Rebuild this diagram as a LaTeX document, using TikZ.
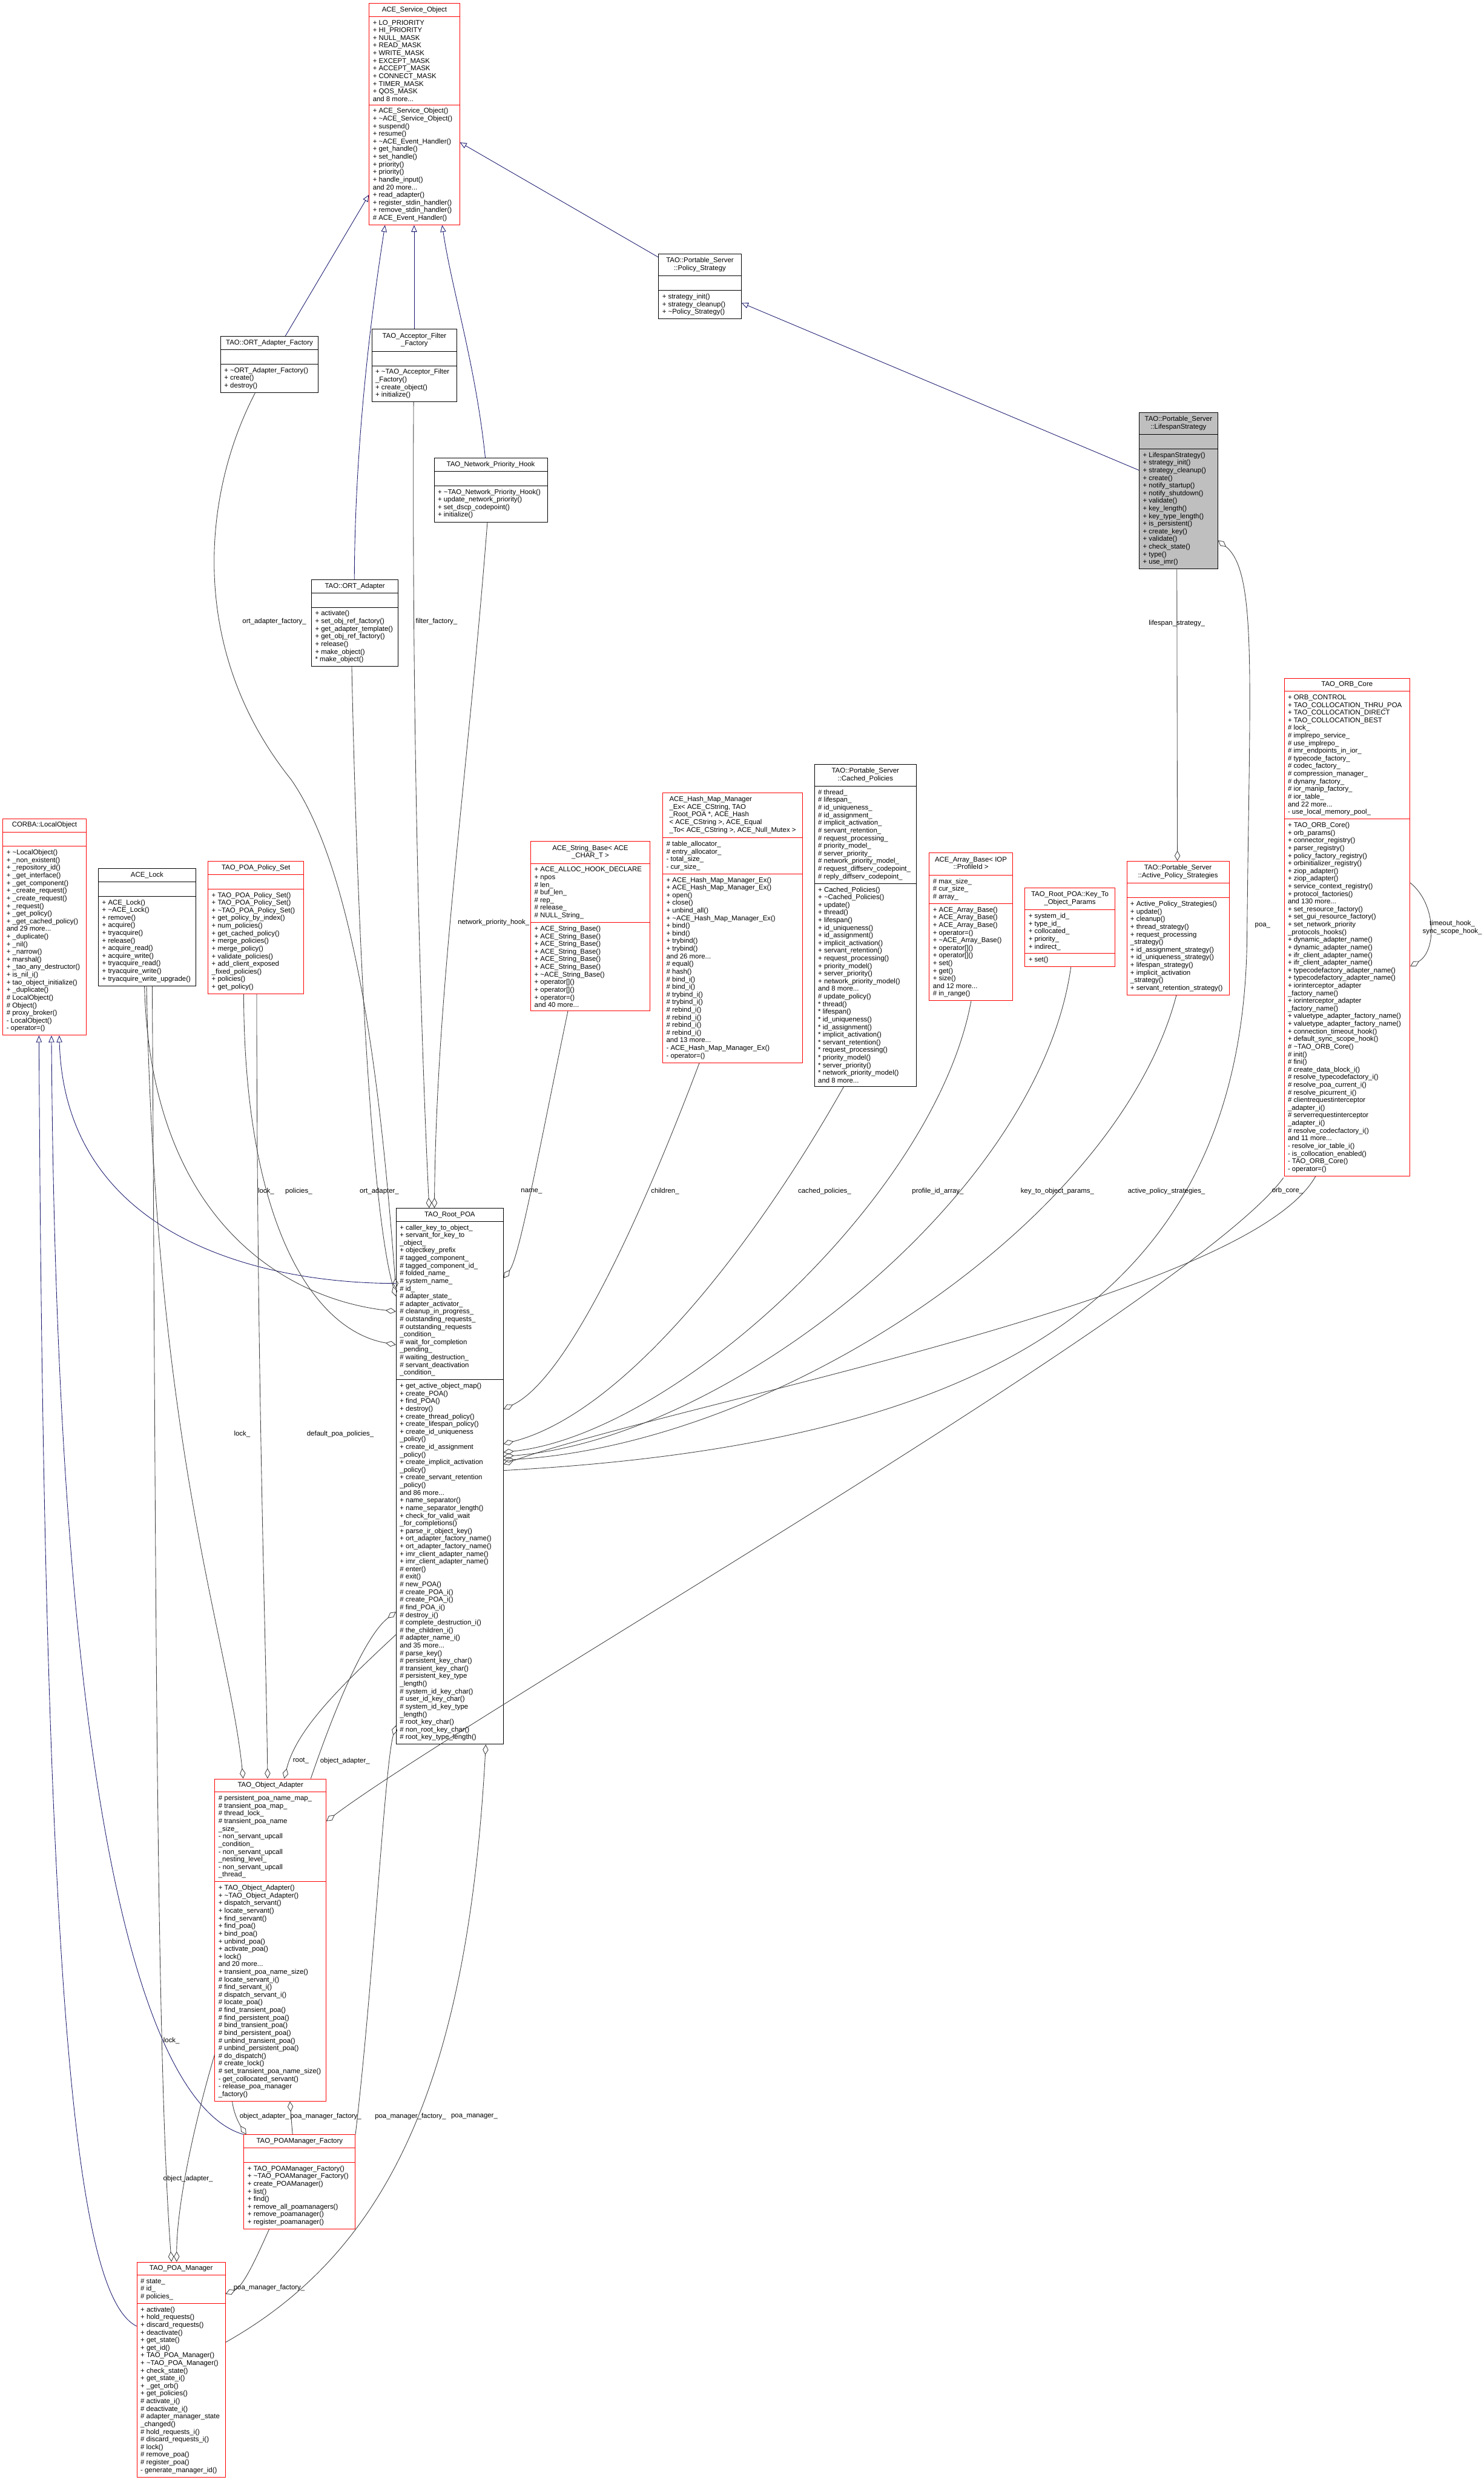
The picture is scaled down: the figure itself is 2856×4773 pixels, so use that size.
\documentclass[tikz,border=0pt]{standalone}
\usepackage{fontspec}
\setmainfont{Liberation Sans}
\usetikzlibrary{shapes.multipart,arrows.meta,calc}

\definecolor{inhblue}{RGB}{25,25,112}
\definecolor{usegray}{RGB}{64,64,64}
\definecolor{boxred}{RGB}{255,0,0}
\definecolor{lifegray}{RGB}{191,191,191}

% centred / left title block for class names that wrap
\newcommand{\clsname}[1]{\begin{tabular}{@{}c@{}}#1\end{tabular}}
\newcommand{\clsnamel}[1]{\begin{tabular}{@{}l@{}}#1\end{tabular}}

\begin{document}
\begin{tikzpicture}[x=1pt,y=-1pt]
  \tikzset{
    cls/.style={rectangle split, rectangle split parts=3, draw=black, line width=1.1pt,
      fill=white, anchor=north west, inner xsep=7pt, inner ysep=6pt, align=left,
      rectangle split part align={center,left,left},
      font=\fontsize{13.3}{14.7}\selectfont},
    redcls/.style={cls, draw=boxred},
    inh/.style={draw=inhblue, line width=1pt, -{Triangle[open, length=13pt, width=11pt]}},
    use/.style={draw=usegray, line width=1pt, -{Diamond[open, length=20pt, width=11pt]}},
    lbl/.style={font=\fontsize{13.3}{14.7}\selectfont, inner sep=0pt, align=center}
  }
  \useasboundingbox[fill=white] (0,0) rectangle (2856,4773);

  % top row: base classes
  \node[redcls, minimum width=174] (aso) at (710,6) {ACE\_Service\_Object
    \nodepart{two}+ LO\_PRIORITY\\+ HI\_PRIORITY\\+ NULL\_MASK\\+ READ\_MASK\\+ WRITE\_MASK\\+ EXCEPT\_MASK\\+ ACCEPT\_MASK\\+ CONNECT\_MASK\\+ TIMER\_MASK\\+ QOS\_MASK\\and 8 more...
    \nodepart{three}+ ACE\_Service\_Object()\\+ \textasciitilde{}ACE\_Service\_Object()\\+ suspend()\\+ resume()\\+ \textasciitilde{}ACE\_Event\_Handler()\\+ get\_handle()\\+ set\_handle()\\+ priority()\\+ priority()\\+ handle\_input()\\and 20 more...\\+ read\_adapter()\\+ register\_stdin\_handler()\\+ remove\_stdin\_handler()\\\# ACE\_Event\_Handler()};
  \node[cls, minimum width=159] (polstrat) at (1267,488) {\clsname{TAO::Portable\_Server\\::Policy\_Strategy}
    \nodepart{two}\strut
    \nodepart{three}+ strategy\_init()\\+ strategy\_cleanup()\\+ \textasciitilde{}Policy\_Strategy()};
  \node[cls, fill=lifegray, minimum width=151] (lifespan) at (2192,793) {\clsname{TAO::Portable\_Server\\::LifespanStrategy}
    \nodepart{two}\strut
    \nodepart{three}+ LifespanStrategy()\\+ strategy\_init()\\+ strategy\_cleanup()\\+ create()\\+ notify\_startup()\\+ notify\_shutdown()\\+ validate()\\+ key\_length()\\+ key\_type\_length()\\+ is\_persistent()\\+ create\_key()\\+ validate()\\+ check\_state()\\+ type()\\+ use\_imr()};

  \node[cls, minimum width=188] (ortfactory) at (424,647) {TAO::ORT\_Adapter\_Factory
    \nodepart{two}\strut
    \nodepart{three}+ \textasciitilde{}ORT\_Adapter\_Factory()\\+ create()\\+ destroy()};
  \node[cls, minimum width=164] (acceptor) at (715,633) {\clsname{TAO\_Acceptor\_Filter\\\_Factory}
    \nodepart{two}\strut
    \nodepart{three}+ \textasciitilde{}TAO\_Acceptor\_Filter\\\_Factory()\\+ create\_object()\\+ initialize()};
  \node[cls, minimum width=218] (nethook) at (835,881) {TAO\_Network\_Priority\_Hook
    \nodepart{two}\strut
    \nodepart{three}+ \textasciitilde{}TAO\_Network\_Priority\_Hook()\\+ update\_network\_priority()\\+ set\_dscp\_codepoint()\\+ initialize()};
  \node[cls, minimum width=167] (ortadapter) at (599,1115) {TAO::ORT\_Adapter
    \nodepart{two}\strut
    \nodepart{three}+ activate()\\+ set\_obj\_ref\_factory()\\+ get\_adapter\_template()\\+ get\_obj\_ref\_factory()\\+ release()\\+ make\_object()\\{*} make\_object()};

  \node[redcls, minimum width=242] (orbcore) at (2471,1305) {TAO\_ORB\_Core
    \nodepart{two}+ ORB\_CONTROL\\+ TAO\_COLLOCATION\_THRU\_POA\\+ TAO\_COLLOCATION\_DIRECT\\+ TAO\_COLLOCATION\_BEST\\\# lock\_\\\# implrepo\_service\_\\\# use\_implrepo\_\\\# imr\_endpoints\_in\_ior\_\\\# typecode\_factory\_\\\# codec\_factory\_\\\# compression\_manager\_\\\# dynany\_factory\_\\\# ior\_manip\_factory\_\\\# ior\_table\_\\and 22 more...\\- use\_local\_memory\_pool\_
    \nodepart{three}+ TAO\_ORB\_Core()\\+ orb\_params()\\+ connector\_registry()\\+ parser\_registry()\\+ policy\_factory\_registry()\\+ orbinitializer\_registry()\\+ ziop\_adapter()\\+ ziop\_adapter()\\+ service\_context\_registry()\\+ protocol\_factories()\\and 130 more...\\+ set\_resource\_factory()\\+ set\_gui\_resource\_factory()\\+ set\_network\_priority\\\_protocols\_hooks()\\+ dynamic\_adapter\_name()\\+ dynamic\_adapter\_name()\\+ ifr\_client\_adapter\_name()\\+ ifr\_client\_adapter\_name()\\+ typecodefactory\_adapter\_name()\\+ typecodefactory\_adapter\_name()\\+ iorinterceptor\_adapter\\\_factory\_name()\\+ iorinterceptor\_adapter\\\_factory\_name()\\+ valuetype\_adapter\_factory\_name()\\+ valuetype\_adapter\_factory\_name()\\+ connection\_timeout\_hook()\\+ default\_sync\_scope\_hook()\\\# \textasciitilde{}TAO\_ORB\_Core()\\\# init()\\\# fini()\\\# create\_data\_block\_i()\\\# resolve\_typecodefactory\_i()\\\# resolve\_poa\_current\_i()\\\# resolve\_picurrent\_i()\\\# clientrequestinterceptor\\\_adapter\_i()\\\# serverrequestinterceptor\\\_adapter\_i()\\\# resolve\_codecfactory\_i()\\and 11 more...\\- resolve\_ior\_table\_i()\\- is\_collocation\_enabled()\\- TAO\_ORB\_Core()\\- operator=()};

  % middle row: member types
  \node[redcls, minimum width=160] (localobj) at (5,1575) {CORBA::LocalObject
    \nodepart{two}\strut
    \nodepart{three}+ \textasciitilde{}LocalObject()\\+ \_non\_existent()\\+ \_repository\_id()\\+ \_get\_interface()\\+ \_get\_component()\\+ \_create\_request()\\+ \_create\_request()\\+ \_request()\\+ \_get\_policy()\\+ \_get\_cached\_policy()\\and 29 more...\\+ \_duplicate()\\+ \_nil()\\+ \_narrow()\\+ marshal()\\+ \_tao\_any\_destructor()\\+ is\_nil\_i()\\+ tao\_object\_initialize()\\+ \_duplicate()\\\# LocalObject()\\\# Object()\\\# proxy\_broker()\\- LocalObject()\\- operator=()};
  \node[cls, minimum width=187] (acelock) at (189,1671) {ACE\_Lock
    \nodepart{two}\strut
    \nodepart{three}+ ACE\_Lock()\\+ \textasciitilde{}ACE\_Lock()\\+ remove()\\+ acquire()\\+ tryacquire()\\+ release()\\+ acquire\_read()\\+ acquire\_write()\\+ tryacquire\_read()\\+ tryacquire\_write()\\+ tryacquire\_write\_upgrade()};
  \node[redcls, minimum width=184] (policyset) at (400,1657) {TAO\_POA\_Policy\_Set
    \nodepart{two}\strut
    \nodepart{three}+ TAO\_POA\_Policy\_Set()\\+ TAO\_POA\_Policy\_Set()\\+ \textasciitilde{}TAO\_POA\_Policy\_Set()\\+ get\_policy\_by\_index()\\+ num\_policies()\\+ get\_cached\_policy()\\+ merge\_policies()\\+ merge\_policy()\\+ validate\_policies()\\+ add\_client\_exposed\\\_fixed\_policies()\\+ policies()\\+ get\_policy()};
  \node[redcls, minimum width=229] (strbase) at (1021,1619) {\clsname{ACE\_String\_Base< ACE\\\_CHAR\_T >}
    \nodepart{two}+ ACE\_ALLOC\_HOOK\_DECLARE\\+ npos\\\# len\_\\\# buf\_len\_\\\# rep\_\\\# release\_\\\# NULL\_String\_
    \nodepart{three}+ ACE\_String\_Base()\\+ ACE\_String\_Base()\\+ ACE\_String\_Base()\\+ ACE\_String\_Base()\\+ ACE\_String\_Base()\\+ ACE\_String\_Base()\\+ \textasciitilde{}ACE\_String\_Base()\\+ operator[]()\\+ operator[]()\\+ operator=()\\and 40 more...};
  \node[redcls, minimum width=269] (hashmap) at (1275,1525) {\clsnamel{ACE\_Hash\_Map\_Manager\\\_Ex< ACE\_CString, TAO\\\_Root\_POA *, ACE\_Hash\\< ACE\_CString >, ACE\_Equal\\\_To< ACE\_CString >, ACE\_Null\_Mutex >}
    \nodepart{two}\# table\_allocator\_\\\# entry\_allocator\_\\- total\_size\_\\- cur\_size\_
    \nodepart{three}+ ACE\_Hash\_Map\_Manager\_Ex()\\+ ACE\_Hash\_Map\_Manager\_Ex()\\+ open()\\+ close()\\+ unbind\_all()\\+ \textasciitilde{}ACE\_Hash\_Map\_Manager\_Ex()\\+ bind()\\+ bind()\\+ trybind()\\+ trybind()\\and 26 more...\\\# equal()\\\# hash()\\\# bind\_i()\\\# bind\_i()\\\# trybind\_i()\\\# trybind\_i()\\\# rebind\_i()\\\# rebind\_i()\\\# rebind\_i()\\\# rebind\_i()\\and 13 more...\\- ACE\_Hash\_Map\_Manager\_Ex()\\- operator=()};
  \node[cls, minimum width=196] (cached) at (1567,1470) {\clsname{TAO::Portable\_Server\\::Cached\_Policies}
    \nodepart{two}\# thread\_\\\# lifespan\_\\\# id\_uniqueness\_\\\# id\_assignment\_\\\# implicit\_activation\_\\\# servant\_retention\_\\\# request\_processing\_\\\# priority\_model\_\\\# server\_priority\_\\\# network\_priority\_model\_\\\# request\_diffserv\_codepoint\_\\\# reply\_diffserv\_codepoint\_
    \nodepart{three}+ Cached\_Policies()\\+ \textasciitilde{}Cached\_Policies()\\+ update()\\+ thread()\\+ lifespan()\\+ id\_uniqueness()\\+ id\_assignment()\\+ implicit\_activation()\\+ servant\_retention()\\+ request\_processing()\\+ priority\_model()\\+ server\_priority()\\+ network\_priority\_model()\\and 8 more...\\\# update\_policy()\\{*} thread()\\{*} lifespan()\\{*} id\_uniqueness()\\{*} id\_assignment()\\{*} implicit\_activation()\\{*} servant\_retention()\\{*} request\_processing()\\{*} priority\_model()\\{*} server\_priority()\\{*} network\_priority\_model()\\and 8 more...};
  \node[redcls, minimum width=160] (arraybase) at (1788,1641) {\clsname{ACE\_Array\_Base< IOP\\::ProfileId >}
    \nodepart{two}\# max\_size\_\\\# cur\_size\_\\\# array\_
    \nodepart{three}+ ACE\_Array\_Base()\\+ ACE\_Array\_Base()\\+ ACE\_Array\_Base()\\+ operator=()\\+ \textasciitilde{}ACE\_Array\_Base()\\+ operator[]()\\+ operator[]()\\+ set()\\+ get()\\+ size()\\and 12 more...\\\# in\_range()};
  \node[redcls, minimum width=173] (keyparams) at (1972,1708) {\clsname{TAO\_Root\_POA::Key\_To\\\_Object\_Params}
    \nodepart{two}+ system\_id\_\\+ type\_id\_\\+ collocated\_\\+ priority\_\\+ indirect\_
    \nodepart{three}+ set()};
  \node[redcls, minimum width=197] (activestrat) at (2168,1657) {\clsname{TAO::Portable\_Server\\::Active\_Policy\_Strategies}
    \nodepart{two}\strut
    \nodepart{three}+ Active\_Policy\_Strategies()\\+ update()\\+ cleanup()\\+ thread\_strategy()\\+ request\_processing\\\_strategy()\\+ id\_assignment\_strategy()\\+ id\_uniqueness\_strategy()\\+ lifespan\_strategy()\\+ implicit\_activation\\\_strategy()\\+ servant\_retention\_strategy()};

  % the POA itself and the adapter classes below it
  \node[cls, minimum width=206] (rootpoa) at (762,2325) {TAO\_Root\_POA
    \nodepart{two}+ caller\_key\_to\_object\_\\+ servant\_for\_key\_to\\\_object\_\\+ objectkey\_prefix\\\# tagged\_component\_\\\# tagged\_component\_id\_\\\# folded\_name\_\\\# system\_name\_\\\# id\_\\\# adapter\_state\_\\\# adapter\_activator\_\\\# cleanup\_in\_progress\_\\\# outstanding\_requests\_\\\# outstanding\_requests\\\_condition\_\\\# wait\_for\_completion\\\_pending\_\\\# waiting\_destruction\_\\\# servant\_deactivation\\\_condition\_
    \nodepart{three}+ get\_active\_object\_map()\\+ create\_POA()\\+ find\_POA()\\+ destroy()\\+ create\_thread\_policy()\\+ create\_lifespan\_policy()\\+ create\_id\_uniqueness\\\_policy()\\+ create\_id\_assignment\\\_policy()\\+ create\_implicit\_activation\\\_policy()\\+ create\_servant\_retention\\\_policy()\\and 86 more...\\+ name\_separator()\\+ name\_separator\_length()\\+ check\_for\_valid\_wait\\\_for\_completions()\\+ parse\_ir\_object\_key()\\+ ort\_adapter\_factory\_name()\\+ ort\_adapter\_factory\_name()\\+ imr\_client\_adapter\_name()\\+ imr\_client\_adapter\_name()\\\# enter()\\\# exit()\\\# new\_POA()\\\# create\_POA\_i()\\\# create\_POA\_i()\\\# find\_POA\_i()\\\# destroy\_i()\\\# complete\_destruction\_i()\\\# the\_children\_i()\\\# adapter\_name\_i()\\and 35 more...\\\# parse\_key()\\\# persistent\_key\_char()\\\# transient\_key\_char()\\\# persistent\_key\_type\\\_length()\\\# system\_id\_key\_char()\\\# user\_id\_key\_char()\\\# system\_id\_key\_type\\\_length()\\\# root\_key\_char()\\\# non\_root\_key\_char()\\\# root\_key\_type\_length()};
  \node[redcls, minimum width=214] (objadapter) at (413,3423) {TAO\_Object\_Adapter
    \nodepart{two}\# persistent\_poa\_name\_map\_\\\# transient\_poa\_map\_\\\# thread\_lock\_\\\# transient\_poa\_name\\\_size\_\\- non\_servant\_upcall\\\_condition\_\\- non\_servant\_upcall\\\_nesting\_level\_\\- non\_servant\_upcall\\\_thread\_
    \nodepart{three}+ TAO\_Object\_Adapter()\\+ \textasciitilde{}TAO\_Object\_Adapter()\\+ dispatch\_servant()\\+ locate\_servant()\\+ find\_servant()\\+ find\_poa()\\+ bind\_poa()\\+ unbind\_poa()\\+ activate\_poa()\\+ lock()\\and 20 more...\\+ transient\_poa\_name\_size()\\\# locate\_servant\_i()\\\# find\_servant\_i()\\\# dispatch\_servant\_i()\\\# locate\_poa()\\\# find\_transient\_poa()\\\# find\_persistent\_poa()\\\# bind\_transient\_poa()\\\# bind\_persistent\_poa()\\\# unbind\_transient\_poa()\\\# unbind\_persistent\_poa()\\\# do\_dispatch()\\\# create\_lock()\\\# set\_transient\_poa\_name\_size()\\- get\_collocated\_servant()\\- release\_poa\_manager\\\_factory()};
  \node[redcls, minimum width=214] (pmfactory) at (469,4108) {TAO\_POAManager\_Factory
    \nodepart{two}\strut
    \nodepart{three}+ TAO\_POAManager\_Factory()\\+ \textasciitilde{}TAO\_POAManager\_Factory()\\+ create\_POAManager()\\+ list()\\+ find()\\+ remove\_all\_poamanagers()\\+ remove\_poamanager()\\+ register\_poamanager()};
  \node[redcls, minimum width=170] (poamanager) at (263,4353) {TAO\_POA\_Manager
    \nodepart{two}\# state\_\\\# id\_\\\# policies\_
    \nodepart{three}+ activate()\\+ hold\_requests()\\+ discard\_requests()\\+ deactivate()\\+ get\_state()\\+ get\_id()\\+ TAO\_POA\_Manager()\\+ \textasciitilde{}TAO\_POA\_Manager()\\+ check\_state()\\+ get\_state\_i()\\+ \_get\_orb()\\+ get\_policies()\\\# activate\_i()\\\# deactivate\_i()\\\# adapter\_manager\_state\\\_changed()\\\# hold\_requests\_i()\\\# discard\_requests\_i()\\\# lock()\\\# remove\_poa()\\\# register\_poa()\\- generate\_manager\_id()};

  % inheritance
  \draw[inh] ($(ortfactory.north west)+(125,0)$) -- ($(aso.north west)+(0,369)$);
  \draw[inh] ($(ortadapter.north west)+(83,0)$) .. controls (683,850) and (715,600) .. ($(aso.south west)+(31,0)$);
  \draw[inh] ($(acceptor.north west)+(82,0)$) -- ($(aso.south west)+(87,0)$);
  \draw[inh] ($(nethook.north west)+(99,0)$) .. controls (915,700) and (870,560) .. ($(aso.south west)+(141,0)$);
  \draw[inh] ($(polstrat.north west)+(0,7)$) -- ($(aso.north east)+(0,268)$);
  \draw[inh] ($(lifespan.north west)+(0,112)$) -- ($(polstrat.north east)+(0,95)$);
  \draw[inh] ($(rootpoa.north west)+(0,145)$) .. controls (500,2470) and (125,2380) .. ($(localobj.south west)+(109,0)$);
  \draw[inh] (pmfactory.north west) .. controls (300,4060) and (110,3600) .. ($(localobj.south west)+(94,0)$);
  \draw[inh] ($(poamanager.north west)+(0,124)$) .. controls (150,4420) and (85,3900) .. ($(localobj.south west)+(70,0)$);

  % members
  \draw[use] ($(ortfactory.south west)+(67,0)$) .. controls (390,950) and (360,1250) .. (560,1500)
    .. controls (700,1700) and (740,2200) .. ($(rootpoa.north west)+(0,155)$);
  \draw[use] ($(ortadapter.south west)+(78,0)$) .. controls (690,1900) and (720,2350) .. ($(rootpoa.north west)+(0,170)$);
  \draw[use] ($(acceptor.south west)+(81,0)$) .. controls (792,1500) and (815,2100) .. ($(rootpoa.north west)+(64,0)$);
  \draw[use] ($(nethook.south west)+(103,0)$) .. controls (900,1500) and (840,1900) .. ($(rootpoa.north west)+(74,0)$);
  \draw[use] ($(acelock.south west)+(89,0)$) .. controls (290,2350) and (550,2500) .. ($(rootpoa.north west)+(0,199)$);
  \draw[use] ($(acelock.south west)+(93,0)$) .. controls (300,2800) and (440,3150) .. ($(objadapter.north west)+(55,0)$);
  \draw[use] ($(acelock.south west)+(104,0)$) .. controls (300,3000) and (300,3950) .. ($(poamanager.north west)+(67,0)$);
  \draw[use] ($(policyset.south west)+(94,0)$) .. controls (495,2700) and (512,3150) .. ($(objadapter.north west)+(102,0)$);
  \draw[use] ($(policyset.south west)+(69,0)$) .. controls (470,2350) and (600,2560) .. ($(rootpoa.north west)+(0,263)$);
  \draw[use] ($(rootpoa.north west)+(0,821)$) .. controls (650,3250) and (570,3330) .. ($(objadapter.north west)+(134,0)$);
  \draw[use] ($(objadapter.north east)+(-30,0)$) .. controls (640,3300) and (700,3150) .. ($(rootpoa.north west)+(0,777)$);
  \draw[use] ($(objadapter.south west)+(0,-90)$) .. controls (370,4100) and (340,4250) .. ($(poamanager.north west)+(77,0)$);
  \draw[use] ($(objadapter.south west)+(34,0)$) .. controls (450,4070) and (462,4090) .. ($(pmfactory.north west)+(5,0)$);
  \draw[use] ($(pmfactory.north west)+(94,0)$) -- ($(objadapter.south west)+(145,0)$);
  \draw[use] ($(pmfactory.south west)+(49,0)$) .. controls (500,4330) and (470,4400) .. ($(poamanager.north east)+(0,62)$);
  \draw[use] (pmfactory.north east) .. controls (720,3800) and (740,3400) .. ($(rootpoa.south west)+(0,-37)$);
  \draw[use] ($(poamanager.north east)+(0,155)$) .. controls (750,4330) and (900,4000) .. ($(rootpoa.south west)+(173,0)$);
  \draw[use] ($(orbcore.south west)+(-1,3)$) .. controls (2300,2500) and (900,3300) .. ($(objadapter.north east)+(0,82)$);
  \draw[use] ($(orbcore.south west)+(61,0)$) .. controls (2400,2500) and (1300,2700) .. ($(rootpoa.north east)+(0,493)$);
  \draw[use] ($(strbase.south west)+(72,0)$) .. controls (1040,2200) and (1000,2420) .. ($(rootpoa.north east)+(0,135)$);
  \draw[use] ($(hashmap.south west)+(71,0)$) .. controls (1250,2300) and (1100,2650) .. ($(rootpoa.north east)+(0,387)$);
  \draw[use] ($(cached.south west)+(57,0)$) .. controls (1450,2400) and (1200,2720) .. ($(rootpoa.north east)+(0,454)$);
  \draw[use] ($(arraybase.south west)+(81,0)$) .. controls (1800,2300) and (1300,2760) .. ($(rootpoa.north east)+(0,470)$);
  \draw[use] ($(keyparams.south west)+(89,0)$) .. controls (2000,2300) and (1400,2770) .. ($(rootpoa.north east)+(0,478)$);
  \draw[use] ($(activestrat.south west)+(96,0)$) .. controls (2150,2350) and (1500,2780) .. ($(rootpoa.north east)+(0,485)$);
  \draw[use] ($(lifespan.south west)+(73,0)$) -- ($(activestrat.north west)+(98,0)$);
  \draw[use] ($(rootpoa.north east)+(0,505)$) .. controls (1900,2780) and (2395,2500) .. (2400,1800)
    .. controls (2405,1300) and (2420,1100) .. ($(lifespan.north east)+(0,247)$);
  \draw[use] ($(orbcore.north east)+(0,394)$) .. controls (2765,1740) and (2765,1830) .. ($(orbcore.north east)+(0,555)$);

  % member names
  \node[lbl] (lortfac) at (528,1196) {ort\_adapter\_factory\_};
  \node[lbl] (lfilter) at (840,1196) {filter\_factory\_};
  \node[lbl] (lnethook) at (950,1775) {network\_priority\_hook\_};
  \node[lbl] (lortad) at (730,2293) {ort\_adapter\_};
  \node[lbl] (llock) at (512,2293) {lock\_};
  \node[lbl] (lpolicies) at (575,2293) {policies\_};
  \node[lbl] (lname) at (1023,2293) {name\_};
  \node[lbl] (lchildren) at (1280,2293) {children\_};
  \node[lbl] (lcached) at (1587,2293) {cached\_policies\_};
  \node[lbl] (lprofile) at (1805,2293) {profile\_id\_array\_};
  \node[lbl] (lkeyparams) at (2035,2293) {key\_to\_object\_params\_};
  \node[lbl] (lactive) at (2245,2293) {active\_policy\_strategies\_};
  \node[lbl] (lorbcore) at (2478,2291) {orb\_core\_};
  \node[lbl] (llifespan) at (2265,1200) {lifespan\_strategy\_};
  \node[lbl] (lpoa) at (2430,1781) {poa\_};
  \node[lbl] (lhooks) at (2795,1785) {timeout\_hook\_\\sync\_scope\_hook\_};
  \node[lbl] (llock2) at (466,2760) {lock\_};
  \node[lbl] (ldefault) at (655,2760) {default\_poa\_policies\_};
  \node[lbl] (lroot) at (579,3389) {root\_};
  \node[lbl] (lobjad) at (664,3389) {object\_adapter\_};
  \node[lbl] (llock3) at (330,3928) {lock\_};
  \node[lbl] (lobjad2) at (509,4073) {object\_adapter\_};
  \node[lbl] (lpmf) at (627,4073) {poa\_manager\_factory\_};
  \node[lbl] (lpmf2) at (790,4073) {poa\_manager\_factory\_};
  \node[lbl] (lpoamgr) at (913,4073) {poa\_manager\_};
  \node[lbl] (lobjad3) at (362,4193) {object\_adapter\_};
  \node[lbl] (lpmf3) at (518,4403) {poa\_manager\_factory\_};
\end{tikzpicture}
\end{document}
